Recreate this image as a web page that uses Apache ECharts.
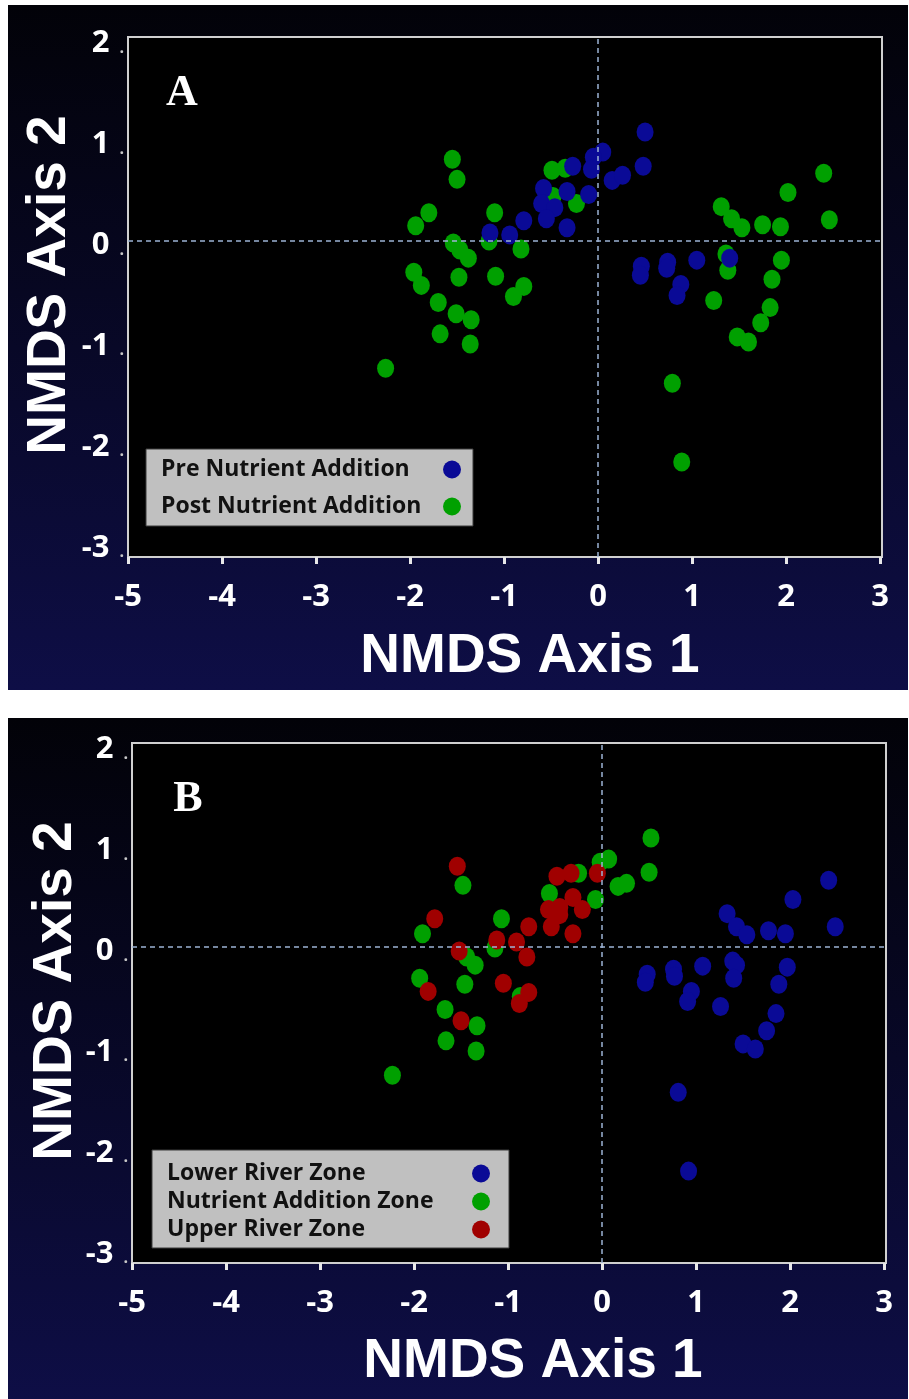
<!DOCTYPE html>
<html>
<head>
<meta charset="utf-8">
<script src="https://cdn.jsdelivr.net/npm/echarts@6/dist/echarts.min.js"></script>
<style>html,body{margin:0;padding:0;background:#fff}#c{width:909px;height:1399px}</style>
</head>
<body>
<div id="c"></div>
<script>
// ---------- DATA ----------
const xTicks = [-5, -4, -3, -2, -1, 0, 1, 2, 3];
const yTicks = [-3, -2, -1, 0, 1, 2];
const axisTitleX = 'NMDS Axis 1';
const axisTitleY = 'NMDS Axis 2';
const panelLabels = ['A', 'B'];

// Panel A
const namesA = ['Pre Nutrient Addition', 'Post Nutrient Addition'];
const preA = [
  [0.50, 1.08], [0.48, 0.74], [0.05, 0.88], [-0.05, 0.83], [-0.07, 0.71], [-0.27, 0.74],
  [0.15, 0.60], [0.26, 0.65], [-0.10, 0.46], [-0.33, 0.49], [-0.58, 0.52], [-0.60, 0.37],
  [-0.46, 0.33], [-0.55, 0.22], [-0.79, 0.20], [-0.33, 0.13], [-0.94, 0.06], [-1.15, 0.08],
  [0.46, -0.25], [0.45, -0.34], [0.74, -0.21], [0.73, -0.27], [1.05, -0.19], [0.88, -0.43],
  [0.84, -0.54], [1.40, -0.17]
];
const postA = [
  [-1.55, 0.81], [-1.50, 0.61], [-1.80, 0.28], [-1.94, 0.15], [-1.10, 0.28], [-1.54, -0.02],
  [-1.47, -0.09], [-1.38, -0.17], [-1.96, -0.31], [-1.88, -0.44], [-1.48, -0.36], [-1.09, -0.35],
  [-0.82, -0.08], [-1.16, 0.00], [-0.90, -0.55], [-0.79, -0.45], [-1.70, -0.61], [-1.51, -0.72],
  [-1.35, -0.78], [-1.68, -0.92], [-1.36, -1.02], [-2.26, -1.26], [-0.49, 0.70], [-0.35, 0.72],
  [-0.48, 0.44], [-0.23, 0.37], [2.40, 0.67], [2.02, 0.48], [2.46, 0.21], [1.31, 0.34],
  [1.42, 0.22], [1.53, 0.13], [1.75, 0.16], [1.94, 0.14], [1.36, -0.13], [1.38, -0.29],
  [1.95, -0.19], [1.85, -0.38], [1.23, -0.59], [1.83, -0.66], [1.73, -0.81], [1.48, -0.95],
  [1.60, -1.00], [0.79, -1.41], [0.89, -2.19]
];

// Panel B
const namesB = ['Lower River Zone', 'Nutrient Addition Zone', 'Upper River Zone'];
const lowerB = [
  [2.41, 0.66], [2.03, 0.47], [2.48, 0.20], [1.33, 0.33], [1.43, 0.20], [1.54, 0.12],
  [1.77, 0.16], [1.95, 0.13], [1.39, -0.14], [1.43, -0.18], [1.40, -0.31], [1.97, -0.20],
  [1.88, -0.37], [0.48, -0.27], [0.46, -0.35], [0.76, -0.22], [0.77, -0.29], [1.07, -0.19],
  [0.95, -0.44], [0.91, -0.54], [1.26, -0.59], [1.85, -0.66], [1.75, -0.83], [1.50, -0.96],
  [1.63, -1.01], [0.81, -1.44], [0.92, -2.22]
];
const nutrientB = [
  [-1.48, 0.61], [-1.91, 0.13], [-1.44, -0.10], [-1.35, -0.18], [-1.94, -0.31], [-1.46, -0.37],
  [-1.07, 0.28], [-1.14, -0.01], [-0.87, -0.49], [-1.67, -0.62], [-1.33, -0.78], [-1.66, -0.93],
  [-1.34, -1.03], [-2.23, -1.27], [-0.56, 0.53], [-0.25, 0.73], [-0.07, 0.47], [-0.02, 0.84],
  [0.07, 0.87], [0.17, 0.60], [0.26, 0.63], [0.52, 1.08], [0.50, 0.74]
];
const upperB = [
  [-1.54, 0.80], [-1.78, 0.28], [-1.52, -0.04], [-1.85, -0.44], [-1.50, -0.73], [-1.12, 0.07],
  [-0.91, 0.05], [-0.80, -0.10], [-0.78, 0.20], [-1.05, -0.36], [-0.88, -0.56], [-0.78, -0.45],
  [-0.48, 0.70], [-0.33, 0.73], [-0.05, 0.73], [-0.57, 0.37], [-0.45, 0.39], [-0.45, 0.32],
  [-0.31, 0.49], [-0.21, 0.37], [-0.54, 0.20], [-0.31, 0.13]
];

// ---------- STYLE ----------
const BLUE = '#0a0a96', GREEN = '#00a000', RED = '#a00000';
const tickFont = '"Open Sans", "DejaVu Sans", sans-serif';
const titleFont = 'bold 55px "Liberation Sans", Arial, sans-serif';

function xAx(gi) {
  return {
    type: 'value', gridIndex: gi, min: -5, max: 3.02,
    splitLine: { show: false },
    axisLine: { show: true, onZero: false, lineStyle: { color: '#d0d0d0', width: 2 } },
    axisTick: { show: true, customValues: xTicks, length: 7, lineStyle: { color: '#e8e8e8', width: 3 } },
    axisLabel: { customValues: xTicks, color: '#fff', fontFamily: tickFont, fontWeight: 'bold', fontSize: 31, margin: 25 }
  };
}
function yAx(gi) {
  return {
    type: 'value', gridIndex: gi, min: -3.13, max: 2.02,
    splitLine: { show: false },
    axisLine: { show: true, onZero: false, lineStyle: { color: '#d0d0d0', width: 2 } },
    axisTick: { show: false },
    axisLabel: {
      customValues: yTicks, margin: 4, padding: [8, 0, 0, 0],
      formatter: v => '{n|' + v + '}{d|.}',
      rich: {
        n: { color: '#fff', fontFamily: tickFont, fontWeight: 'bold', fontSize: 31 },
        d: { color: '#c8c8c8', fontFamily: tickFont, fontWeight: 'bold', fontSize: 16, padding: [10, 0, 0, 10] }
      }
    }
  };
}
function sc(name, data, color, gi) {
  return {
    type: 'scatter', name, data, xAxisIndex: gi, yAxisIndex: gi,
    symbol: 'circle', symbolSize: [17, 19], itemStyle: { color, opacity: 1 },
    emphasis: { disabled: true }, animation: false
  };
}
function zeroLines(gi) {
  return {
    type: 'scatter', data: [], xAxisIndex: gi, yAxisIndex: gi, silent: true,
    markLine: {
      silent: true, symbol: 'none', label: { show: false }, animation: false,
      lineStyle: { color: '#9cb2d4', type: [5, 4], width: 1.5 },
      data: [{ xAxis: 0 }, { yAxis: 0 }]
    }
  };
}
function legend(names, left, top, textW, gap, padding) {
  return {
    data: names, orient: 'vertical', left, top, align: 'right',
    backgroundColor: '#c0c0c0', borderColor: '#3a3a3a', borderWidth: 1, borderRadius: 0,
    padding, itemGap: gap, itemWidth: 18, itemHeight: 18, icon: 'circle',
    selectedMode: false,
    formatter: n => '{t|' + n + '}',
    textStyle: {
      color: '#111', fontFamily: tickFont, fontWeight: 'bold', fontSize: 23, lineHeight: 20,
      rich: { t: { width: textW, align: 'left', color: '#111', fontFamily: tickFont, fontWeight: 'bold', fontSize: 23, lineHeight: 20 } }
    }
  };
}
function bgRect(y, h) {
  return {
    type: 'rect', z: -100, silent: true,
    shape: { x: 8, y, width: 900, height: h },
    style: { fill: { type: 'linear', x: 0, y: 0, x2: 0, y2: 1, colorStops: [{ offset: 0, color: '#020208' }, { offset: 1, color: '#0e0e46' }] } }
  };
}
function txt(text, x, y, font, rot) {
  return { type: 'text', x, y, rotation: rot || 0, z: 100, silent: true,
    style: { text, font, fill: '#fff', align: 'center', verticalAlign: 'middle' } };
}

const chart = echarts.init(document.getElementById('c'), null, { renderer: 'canvas' });
chart.setOption({
  backgroundColor: '#ffffff',
  animation: false,
  grid: [
    { left: 128, top: 37, width: 754, height: 520, show: true, backgroundColor: '#000', borderColor: '#d0d0d0', borderWidth: 2 },
    { left: 132, top: 743, width: 754, height: 520, show: true, backgroundColor: '#000', borderColor: '#d0d0d0', borderWidth: 2 }
  ],
  xAxis: [xAx(0), xAx(1)],
  yAxis: [yAx(0), yAx(1)],
  legend: [
    legend(namesA, 146, 449, 277, 14, [9, 12, 8, 15]),
    legend(namesB, 152, 1150, 300, 5, [12, 19, 7, 15])
  ],
  graphic: [
    bgRect(5, 685), bgRect(718, 681),
    txt(axisTitleX, 530, 657, titleFont), txt(axisTitleY, 50, 285, titleFont, Math.PI / 2),
    txt(axisTitleX, 533, 1362, titleFont), txt(axisTitleY, 56, 991, titleFont, Math.PI / 2),
    txt(panelLabels[0], 182, 94, 'bold 44px "Liberation Serif", "Times New Roman", serif'),
    txt(panelLabels[1], 188, 800, 'bold 44px "Liberation Serif", "Times New Roman", serif')
  ],
  series: [
    zeroLines(0), zeroLines(1),
    sc(namesA[1], postA, GREEN, 0),
    sc(namesA[0], preA, BLUE, 0),
    sc(namesB[1], nutrientB, GREEN, 1),
    sc(namesB[2], upperB, RED, 1),
    sc(namesB[0], lowerB, BLUE, 1)
  ]
});
</script>
</body>
</html>
